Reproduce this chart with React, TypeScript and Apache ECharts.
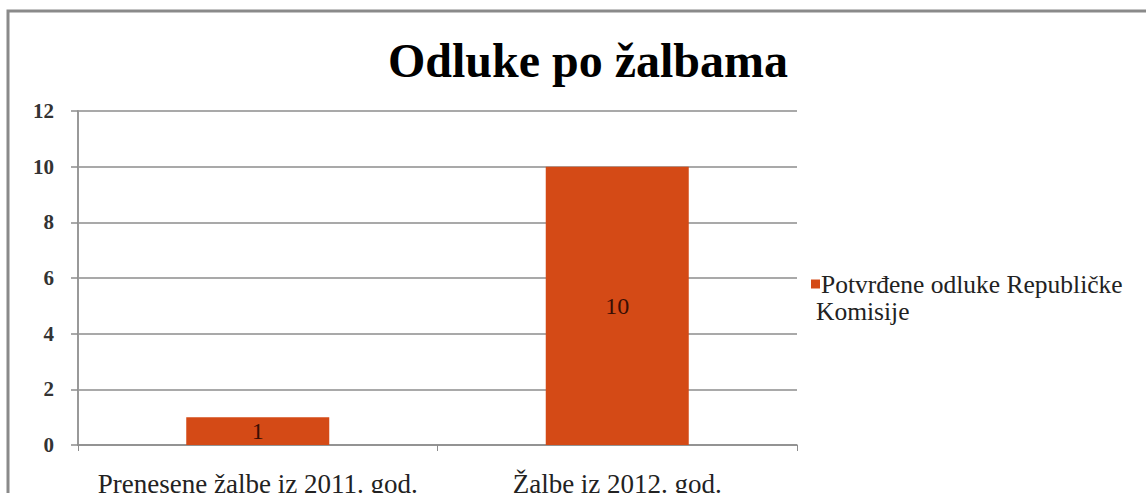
import React, { useEffect, useRef } from "react";
import * as echarts from "echarts";

const titleText = "Odluke po žalbama";
const categories = ["Prenesene žalbe iz 2011. god.", "Žalbe iz 2012. god."];
const seriesName = "Potvrđene odluke Republičke Komisije";
const legendLine1 = "Potvrđene odluke Republičke";
const legendLine2 = "Komisije";
const values = [1, 10];
const yMin = 0;
const yMax = 12;
const yStep = 2;

const SERIF = "Liberation Serif";

export default function App() {
  const ref = useRef<HTMLDivElement>(null);
  useEffect(() => {
    if (!ref.current) return;
    const chart = echarts.init(ref.current, undefined, { renderer: "svg" });
    chart.setOption({
      animation: false,
      backgroundColor: "#ffffff",
      textStyle: { fontFamily: SERIF },
      title: {
        text: titleText,
        left: 583,
        top: 31,
        textAlign: "center",
        textStyle: { fontFamily: SERIF, fontWeight: "bold", fontSize: 48, color: "#000" },
      },
      grid: { left: 78, right: 349, top: 111, bottom: 48, containLabel: false, outerBoundsMode: "none" },
      legend: {
        show: true,
        left: 806,
        top: 266,
        itemWidth: 9,
        itemHeight: 9,
        itemGap: 0,
        icon: "rect",
        formatter: () => legendLine1,
        textStyle: { fontFamily: SERIF, fontSize: 25.5, color: "#222", padding: [0, 0, 0, -4] },
        data: [seriesName],
      },
      graphic: [
        {
          type: "rect",
          shape: { x: 8, y: 11, width: 1160, height: 520 },
          style: { fill: "none", stroke: "#8a8a8a", lineWidth: 3 },
          silent: true,
        },
        {
          type: "text",
          left: 816,
          top: 298,
          style: { text: legendLine2, fontFamily: SERIF, fontSize: 25.5, fill: "#222" },
        },
      ],
      xAxis: {
        type: "category",
        data: categories,
        axisLine: { show: true, lineStyle: { color: "#8c8c8c", width: 1.5 } },
        axisTick: { show: true, length: 6, interval: 0, lineStyle: { color: "#8c8c8c" } },
        axisLabel: { fontFamily: SERIF, fontSize: 27, color: "#222", margin: 25, interval: 0 },
      },
      yAxis: {
        type: "value",
        min: yMin,
        max: yMax,
        interval: yStep,
        axisLine: { show: true, lineStyle: { color: "#999", width: 2 } },
        axisTick: { show: true, length: 7, lineStyle: { color: "#8c8c8c", width: 1.5 } },
        splitLine: { show: true, lineStyle: { color: "#8c8c8c", width: 1.5 } },
        axisLabel: { fontFamily: SERIF, fontWeight: "bold", fontSize: 21, color: "#333", margin: 24 },
      },
      series: [
        {
          name: seriesName,
          type: "bar",
          data: values,
          barWidth: 143,
          itemStyle: { color: "#D44A16" },
          label: {
            show: true,
            position: "inside",
            fontFamily: SERIF,
            fontSize: 24,
            color: "#3a0e04",
          },
        },
      ],
    });
    return () => chart.dispose();
  }, []);
  return (
    <div
      ref={ref}
      style={{ position: "absolute", left: 0, top: 0, width: 1146, height: 493 }}
    />
  );
}
